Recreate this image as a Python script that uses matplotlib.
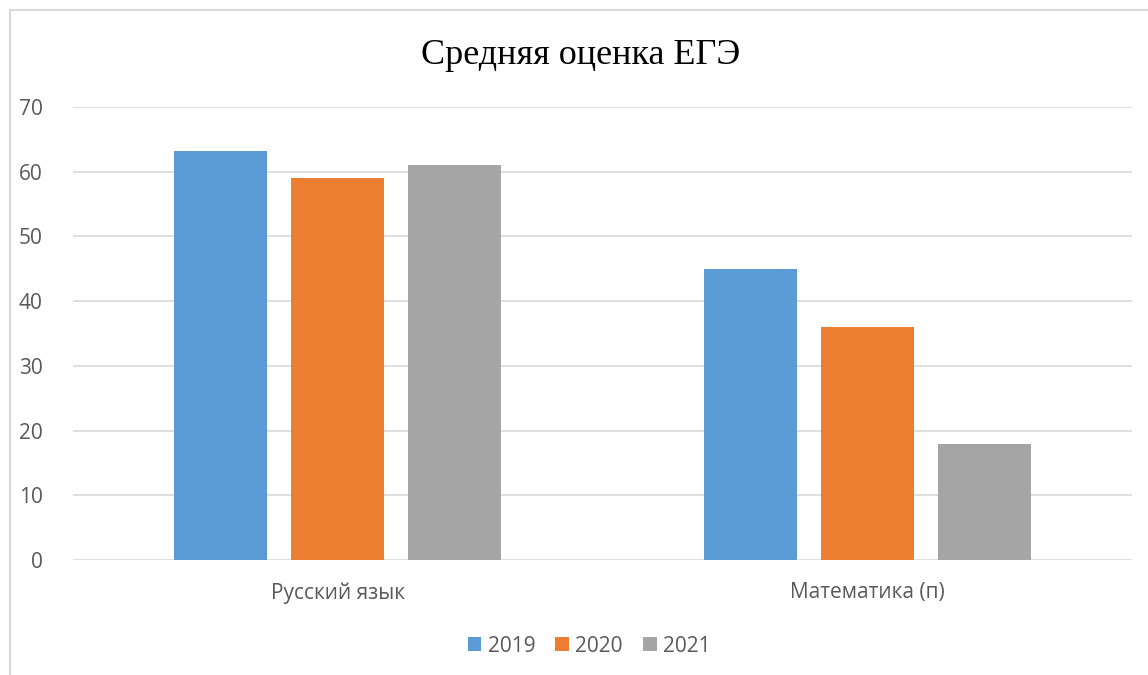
import matplotlib.pyplot as plt
import numpy as np
from matplotlib.patches import Rectangle

# данные
categories = ["Русский язык", "Математика (п)"]
years = ["2019", "2020", "2021"]
scores_2019 = [63.2, 45]
scores_2020 = [59, 36]
scores_2021 = [61, 18]
colors = ["#5B9BD5", "#ED7D31", "#A5A5A5"]

W, H = 1148, 675
fig = plt.figure(figsize=(W / 100, H / 100), dpi=100)
ax = fig.add_axes([73 / W, 1 - 560 / H, (1132 - 73) / W, (560 - 107) / H])

# рамка области диаграммы
fig.patches.append(Rectangle((9.5 / W, -0.1), 1.2, 1 - 9.5 / H + 0.1,
                             transform=fig.transFigure, fill=False,
                             edgecolor="#D9D9D9", linewidth=1.5))

x = np.arange(len(categories))
width = 0.176
step = 0.221
for i, (vals, year) in enumerate(zip([scores_2019, scores_2020, scores_2021], years)):
    ax.bar(x + (i - 1) * step, vals, width, color=colors[i], label=year, zorder=3)

ax.set_xlim(-0.5, 1.5)
ax.set_ylim(0, 70)
ax.set_yticks(range(0, 71, 10))
ax.grid(axis="y", color="#D9D9D9", linewidth=1.2, zorder=0)
for s in ax.spines.values():
    s.set_visible(False)
ax.set_xticks(x)
ax.set_xticklabels(categories)
ax.tick_params(length=0, labelsize=15, labelcolor="#595959")
ax.tick_params(axis="y", pad=22)
ax.tick_params(axis="x", pad=16)
for lbl in ax.get_xticklabels() + ax.get_yticklabels():
    lbl.set_family("Open Sans")

fig.text(581 / W, 1 - 55 / H, "Средняя оценка ЕГЭ", ha="center", va="center",
         family="Liberation Serif", fontsize=26)

ax.legend(loc="center", bbox_to_anchor=(589 / W, 1 - 646 / H), bbox_transform=fig.transFigure,
          ncol=3, frameon=False, handlelength=0.67, handleheight=0.67, handletextpad=0.3,
          columnspacing=0.95, prop={"family": "Open Sans", "size": 15}, labelcolor="#595959")

fig.savefig("out.png", dpi=100)
